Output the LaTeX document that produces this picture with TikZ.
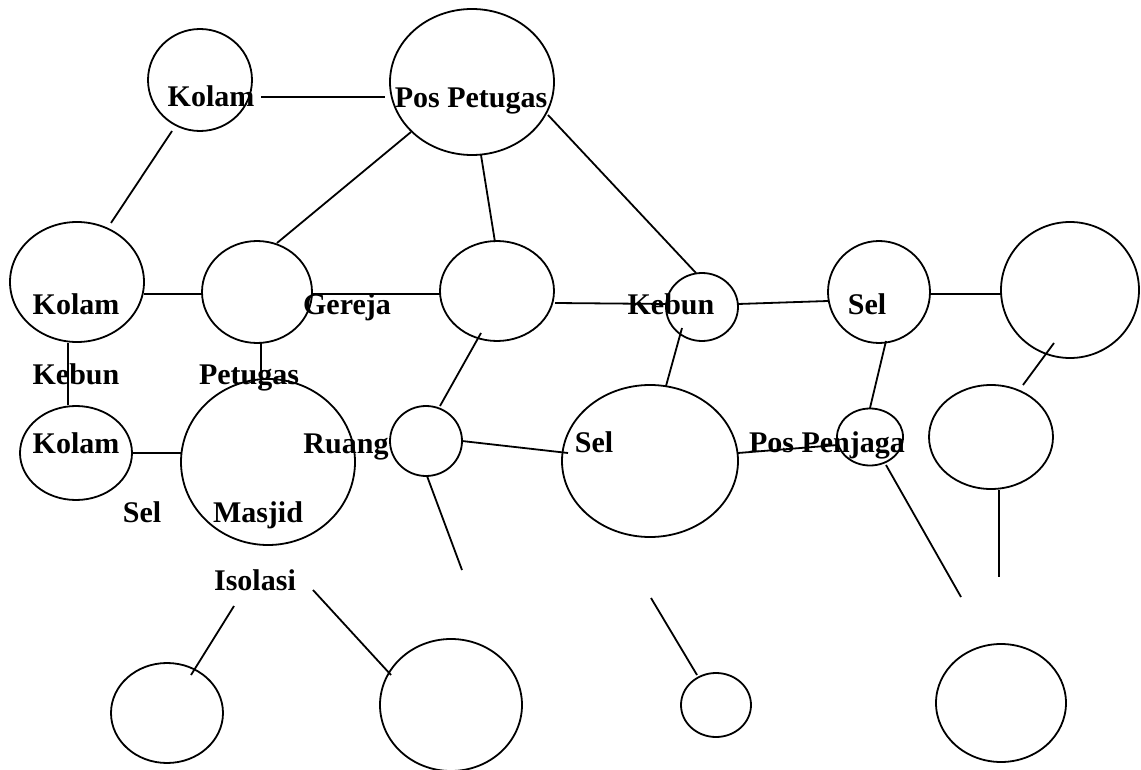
\documentclass[tikz,border=0pt]{standalone}
\usepackage{fontspec}
\setmainfont{Liberation Serif}
\usetikzlibrary{shapes.geometric}
\begin{document}
\begin{tikzpicture}[x=1pt,y=-1pt,
  ring/.style={draw=black,line width=1.8pt,ellipse,inner sep=0pt,minimum width=#1},
  lbl/.style={anchor=base,inner sep=0pt,font=\fontsize{30}{36}\selectfont\bfseries},
  link/.style={draw=black,line width=1.8pt}]
\useasboundingbox[fill=white] (0,0) rectangle (1141,770);
% ellipses
\node[ring=104pt,minimum height=102pt] (e1) at (200,80) {};
\node[ring=164pt,minimum height=146pt] (e2) at (472,82) {};
\node[ring=134pt,minimum height=120pt] (e3) at (77,282) {};
\node[ring=110pt,minimum height=102pt] (e4) at (257,292) {};
\node[ring=114pt,minimum height=100pt] (e5) at (497,291) {};
\node[ring=72pt,minimum height=68pt] (e6) at (702,307) {};
\node[ring=102pt,minimum height=102pt] (e7) at (879,292) {};
\node[ring=138pt,minimum height=136pt] (e8) at (1070,290) {};
\node[ring=112pt,minimum height=94pt] (e9) at (76,453) {};
\node[ring=174pt,minimum height=166pt] (e10) at (268,462) {};
\node[ring=72pt,minimum height=70pt] (e11) at (426,441) {};
\node[ring=176pt,minimum height=152pt] (e12) at (650,461) {};
\node[ring=66pt,minimum height=57pt] (e13) at (870,437) {};
\node[ring=124pt,minimum height=104pt] (e14) at (991,437) {};
\node[ring=112pt,minimum height=100pt] (e15) at (167,713) {};
\node[ring=142pt,minimum height=132pt] (e16) at (451,705) {};
\node[ring=70pt,minimum height=64pt] (e17) at (716,705) {};
\node[ring=130pt,minimum height=118pt] (e18) at (1001,703) {};
% connector end points
\coordinate (a1) at (261,97);   \coordinate (b1) at (385,97);
\coordinate (a2) at (172,131);  \coordinate (b2) at (111,223);
\coordinate (a3) at (144,294);  \coordinate (b3) at (202,294);
\coordinate (a4) at (411,132);  \coordinate (b4) at (277,243);
\coordinate (a5) at (481,155);  \coordinate (b5) at (495,242);
\coordinate (a6) at (548,115);  \coordinate (b6) at (696,273);
\coordinate (a7) at (312,294);  \coordinate (b7) at (440,294);
\coordinate (a8) at (555,303);  \coordinate (b8) at (668,304);
\coordinate (a9) at (738,304);  \coordinate (b9) at (828,301);
\coordinate (a10) at (930,294); \coordinate (b10) at (1001,294);
\coordinate (a11) at (1054,343);\coordinate (b11) at (1023,385);
\coordinate (a12) at (682,328); \coordinate (b12) at (666,386);
\coordinate (a13) at (886,341); \coordinate (b13) at (870,408);
\coordinate (a14) at (738,453); \coordinate (b14) at (838,445);
\coordinate (a15) at (886,465); \coordinate (b15) at (961,597);
\coordinate (a16) at (999,490); \coordinate (b16) at (999,577);
\coordinate (a17) at (68,343);  \coordinate (b17) at (68,405);
\coordinate (a18) at (261,343); \coordinate (b18) at (261,388);
\coordinate (a19) at (131,453); \coordinate (b19) at (181,453);
\coordinate (a20) at (481,333); \coordinate (b20) at (440,406);
\coordinate (a21) at (462,441); \coordinate (b21) at (568,453);
\coordinate (a22) at (427,476); \coordinate (b22) at (462,570);
\coordinate (a23) at (234,606); \coordinate (b23) at (191,675);
\coordinate (a24) at (313,590); \coordinate (b24) at (391,675);
\coordinate (a25) at (651,598); \coordinate (b25) at (697,675);
\foreach \i in {1,...,25} {\draw[link] (a\i) -- (b\i);}
% labels
\node[lbl] (t1) at (211,107) {Kolam};
\node[lbl] (t2) at (471,108) {Pos Petugas};
\node[lbl] (t3) at (76,314) {Kolam};
\node[lbl] (t4) at (347,314) {Gereja};
\node[lbl] (t5) at (671,314) {Kebun};
\node[lbl] (t6) at (867,314) {Sel};
\node[lbl] (t7) at (76,384) {Kebun};
\node[lbl] (t8) at (249,384) {Petugas};
\node[lbl] (t9) at (76,453) {Kolam};
\node[lbl] (t10) at (346,453) {Ruang};
\node[lbl] (t11) at (594,452) {Sel};
\node[lbl] (t12) at (827,452) {Pos Penjaga};
\node[lbl] (t13) at (142,522) {Sel};
\node[lbl] (t14) at (258,522) {Masjid};
\node[lbl] (t15) at (255,590) {Isolasi};
\end{tikzpicture}
\end{document}
